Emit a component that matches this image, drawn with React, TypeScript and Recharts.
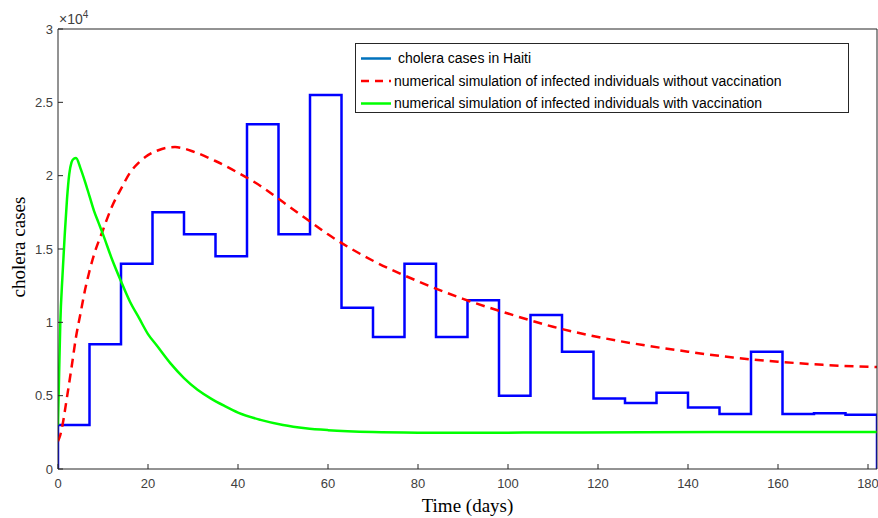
import React from 'react'
import { ComposedChart, Line, XAxis, YAxis, Legend } from 'recharts'

// weekly reported cases (step plot), week start day -> cases
const weekDays = [0, 0, 7, 14, 21, 28, 35, 42, 49, 56, 63, 70, 77, 84, 91, 98, 105, 112, 119, 126, 133, 140, 147, 154, 161, 168, 175, 182, 182]
const weekCases = [0, 3000, 8500, 14000, 17500, 16000, 14500, 23500, 16000, 25500, 11000, 9000, 14000, 9000, 11500, 5000, 10500, 8000, 4800, 4500, 5200, 4200, 3750, 8000, 3750, 3800, 3700, 3700, 0]

// model without vaccination
const noVaxDays = [0, 0.5, 1, 2, 3, 4, 5, 6, 7, 8, 10, 12, 14, 16, 18, 20, 22, 24, 26, 28, 30, 35, 40, 45, 50, 55, 60, 70, 80, 90, 100, 110, 120, 130, 140, 150, 160, 170, 182]
const noVaxCases = [1900, 2300, 3000, 4900, 6900, 9000, 10600, 12200, 13500, 14600, 16300, 17900, 19100, 20200, 20900, 21400, 21700, 21900, 21950, 21850, 21650, 21000, 20200, 19300, 18200, 17100, 16000, 14200, 12800, 11600, 10600, 9700, 9000, 8450, 8000, 7600, 7320, 7100, 6950]

// model with vaccination
const vaxDays = [0, 0.25, 0.5, 1, 1.5, 2, 2.5, 3, 3.5, 4, 5, 6, 7, 8, 9, 10, 12, 14, 16, 18, 20, 22, 25, 28, 31, 34, 37, 40, 45, 50, 55, 60, 70, 80, 90, 110, 130, 150, 182]
const vaxCases = [3000, 6500, 9800, 13200, 16000, 18400, 20100, 20900, 21150, 21200, 20500, 19600, 18600, 17600, 16800, 16000, 14300, 12800, 11400, 10300, 9200, 8400, 7200, 6200, 5400, 4800, 4300, 3850, 3350, 3000, 2780, 2650, 2520, 2480, 2470, 2490, 2510, 2520, 2530]

const xTicks = [0, 20, 40, 60, 80, 100, 120, 140, 160, 180]
const yTicks = [0, 5000, 10000, 15000, 20000, 25000, 30000]

const seriesNames = [
  'cholera cases in Haiti',
  'numerical simulation of infected individuals without vaccination',
  'numerical simulation of infected individuals with vaccination',
]

const weekly = weekDays.map((d, i) => ({ day: d, cases: weekCases[i] }))
const noVax = noVaxDays.map((d, i) => ({ day: d, cases: noVaxCases[i] }))
const withVax = vaxDays.map((d, i) => ({ day: d, cases: vaxCases[i] }))

const axisColor = '#262626'
const tickFont = { fontSize: 13, fill: '#404040', fontFamily: 'Liberation Sans, Arial, sans-serif' }

function MatlabLegend() {
  const rows = [
    { name: seriesNames[0], color: '#0072BD', dash: undefined, textX: 42 },
    { name: seriesNames[1], color: '#FF0000', dash: '8 6', textX: 38 },
    { name: seriesNames[2], color: '#00FF00', dash: undefined, textX: 38 },
  ]
  return (
    <div style={{
      position: 'absolute', left: 355, top: 43, width: 492, height: 68,
      border: `1px solid ${axisColor}`, background: '#fff',
      fontFamily: 'Liberation Sans, Arial, sans-serif', fontSize: 14, color: '#000',
    }}>
      <svg width={492} height={68} style={{ position: 'absolute', left: 0, top: 0 }}>
        {rows.map((r, i) => (
          <line key={i} x1={5} x2={35} y1={14.5 + i * 22.5} y2={14.5 + i * 22.5}
            stroke={r.color} strokeWidth={2.5} strokeDasharray={r.dash} />
        ))}
      </svg>
      {rows.map((r, i) => (
        <div key={i} style={{ position: 'absolute', left: r.textX, top: 5 + i * 22.5, lineHeight: '18px', whiteSpace: 'nowrap' }}>
          {r.name}
        </div>
      ))}
    </div>
  )
}

export default function App() {
  return (
    <div style={{ position: 'absolute', left: 0, top: 0, width: 878, height: 518, background: '#fff' }}>
      <ComposedChart width={878} height={518} margin={{ top: 9, right: 0, bottom: 19, left: 18 }}>
        <XAxis
          xAxisId="bottom" dataKey="day" type="number" domain={[0, 182]} ticks={xTicks}
          height={30} tickSize={-5} tickMargin={15} allowDataOverflow
          axisLine={{ stroke: axisColor }} tickLine={{ stroke: axisColor }} tick={tickFont}
          label={{ value: 'Time (days)', position: 'bottom', offset: 0, style: { fontSize: 19, fill: '#000', fontFamily: 'Liberation Serif, Times New Roman, serif' } }}
        />
        <XAxis
          xAxisId="top" orientation="top" type="number" domain={[0, 182]} ticks={xTicks}
          height={20} tickSize={-5} tick={false} allowDataOverflow
          axisLine={{ stroke: axisColor }} tickLine={{ stroke: axisColor }}
        />
        <YAxis
          yAxisId="left" type="number" domain={[0, 30000]} ticks={yTicks}
          width={40} tickSize={-5} tickMargin={10} allowDataOverflow
          axisLine={{ stroke: axisColor }} tickLine={{ stroke: axisColor }} tick={tickFont}
          tickFormatter={(v: number) => String(v / 10000)}
        />
        <YAxis
          yAxisId="right" orientation="right" type="number" domain={[0, 30000]} ticks={yTicks}
          width={1} tickSize={-5} tick={false} allowDataOverflow
          axisLine={{ stroke: axisColor }} tickLine={{ stroke: axisColor }}
        />
        <Legend content={() => null} />
        <Line xAxisId="bottom" yAxisId="left" data={weekly} dataKey="cases" name={seriesNames[0]}
          type="stepAfter" stroke="#0000FF" strokeWidth={2.5} dot={false} isAnimationActive={false} />
        <Line xAxisId="bottom" yAxisId="left" data={noVax} dataKey="cases" name={seriesNames[1]}
          type="monotone" stroke="#FF0000" strokeWidth={2.5} strokeDasharray="9 6" dot={false} isAnimationActive={false} />
        <Line xAxisId="bottom" yAxisId="left" data={withVax} dataKey="cases" name={seriesNames[2]}
          type="monotone" stroke="#00FF00" strokeWidth={2.5} dot={false} isAnimationActive={false} />
      </ComposedChart>
      {/* y axis title and exponent, drawn over the chart */}
      <div style={{
        position: 'absolute', left: 19, top: 247, transform: 'translate(-50%, -50%) rotate(-90deg)',
        fontFamily: 'Liberation Serif, Times New Roman, serif', fontSize: 19, whiteSpace: 'nowrap', color: '#000',
      }}>
        cholera cases
      </div>
      <div style={{
        position: 'absolute', left: 59, top: 11, fontFamily: 'Liberation Sans, Arial, sans-serif',
        fontSize: 14, lineHeight: '16px', color: '#404040', whiteSpace: 'nowrap',
      }}>
        <span>×10</span>
        <span style={{ fontSize: 10, position: 'relative', top: -6 }}>4</span>
      </div>
      <MatlabLegend />
    </div>
  )
}
